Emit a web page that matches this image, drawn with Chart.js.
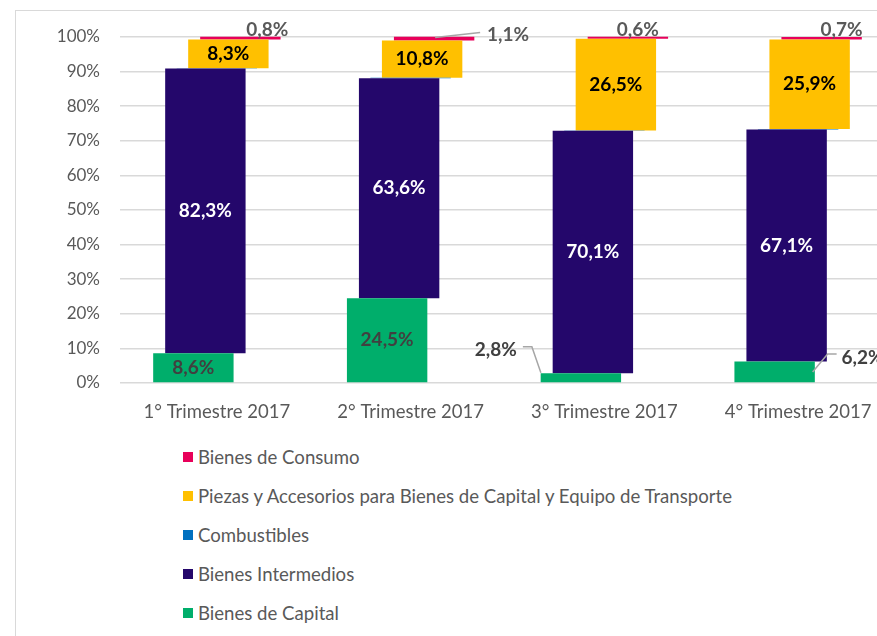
<!DOCTYPE html>
<html>
<head>
<meta charset="utf-8">
<script src="https://cdn.jsdelivr.net/npm/chart.js@4.4.1/dist/chart.umd.min.js"></script>
<style>
html, body { margin: 0; padding: 0; width: 877px; height: 636px; overflow: hidden; background: #fff; }
#frame { position: absolute; left: 15px; top: 10px; width: 1000px; height: 1000px; border: 1px solid #d9d9d9; }
#chartArea { position: absolute; left: 0; top: 0; }
#legend { position: absolute; left: 183px; top: 437px; font-family: Lato, sans-serif; font-size: 18.6px; color: #595959; }
.item { height: 39px; display: flex; align-items: center; white-space: nowrap; }
.box { width: 10px; height: 10px; margin-right: 5px; }
</style>
</head>
<body>
<div id="frame"></div>
<canvas id="chartArea" width="900" height="430"></canvas>
<div id="legend"></div>
<script>
'use strict'

// data (percent of total)
const categories = ['1° Trimestre 2017', '2° Trimestre 2017', '3° Trimestre 2017', '4° Trimestre 2017'];
const seriesNames = ['Bienes de Capital', 'Bienes Intermedios', 'Combustibles',
    'Piezas y Accesorios para Bienes de Capital y Equipo de Transporte', 'Bienes de Consumo'];
const capital = [8.6, 24.5, 2.8, 6.2];
const intermedios = [82.3, 63.6, 70.1, 67.1];
const combustibles = [0.1, 0.1, 0.1, 0.1];
const piezas = [8.3, 10.8, 26.5, 25.9];
const consumo = [0.8, 1.1, 0.6, 0.7];
const yTicks = [0, 10, 20, 30, 40, 50, 60, 70, 80, 90, 100];

const colors = ['#00ae6b', '#24076b', '#0070c0', '#ffc000', '#e8005a'];
const labelColors = ['#404040', '#ffffff', null, '#000000', '#595959'];

// each series is drawn a little to the right of the previous one (pseudo depth)
const barShift = [-23.5, -11.5, 0, 11.5, 23.5];

// label nudges relative to the bar centre, plus optional leader lines
const labelNudge = {
    '4-0': { dx: 27, dy: -8 },
    '4-1': { dx: 74, dy: -4, leader: [[1, -1], [46, -6]] },
    '4-2': { dx: 10, dy: -8 },
    '4-3': { dx: 20, dy: -8 },
    '0-2': { dx: -85, dy: -28, leader: [[-58, -31], [-49, -31], [-40, -5]] },
    '0-3': { dx: 88, dy: -14, leader: [[38, 0], [53, -18], [62, -18]] }
};

let fmt = function(v) {
    return v.toFixed(1).replace('.', ',') + '%';
};

const shiftPlugin = {
    id: 'shift',
    beforeDatasetDraw(chart, args) {
        chart.ctx.save();
        chart.ctx.translate(barShift[args.index], 0);
    },
    afterDatasetDraw(chart) {
        chart.ctx.restore();
    }
};

const labelPlugin = {
    id: 'barLabels',
    afterDatasetsDraw(chart) {
        const ctx = chart.ctx;
        ctx.save();
        ctx.font = 'bold 19px Lato';
        ctx.textAlign = 'center';
        ctx.textBaseline = 'middle';
        chart.data.datasets.forEach((ds, di) => {
            if (!labelColors[di]) return;
            chart.getDatasetMeta(di).data.forEach((bar, i) => {
                let cx = bar.x + barShift[di];
                let cy = (bar.y + bar.base) / 2;
                let n = labelNudge[di + '-' + i];
                let x = cx, y = cy;
                if (n) {
                    x += n.dx;
                    y += n.dy;
                    if (n.leader) {
                        ctx.strokeStyle = '#a6a6a6';
                        ctx.lineWidth = 1.5;
                        ctx.beginPath();
                        n.leader.forEach((p, k) => {
                            if (k == 0) ctx.moveTo(cx + p[0], cy + p[1]);
                            else ctx.lineTo(cx + p[0], cy + p[1]);
                        });
                        ctx.stroke();
                    }
                }
                ctx.fillStyle = labelColors[di];
                ctx.fillText(fmt(ds.data[i]), x, y);
            });
        });
        ctx.restore();
    }
};

const seriesData = [capital, intermedios, combustibles, piezas, consumo];
let datasets = [];
for (let k = 0; k < seriesData.length; k++) {
    datasets.push({
        label: seriesNames[k],
        data: seriesData[k],
        backgroundColor: colors[k],
        borderWidth: 0,
        clip: false,
        categoryPercentage: 0.83,
        barPercentage: 0.5
    });
}

let ctx = document.getElementById('chartArea').getContext('2d');
let chart = new Chart(ctx, {
    type: 'bar',
    data: { labels: categories, datasets: datasets },
    options: {
        responsive: false,
        animation: false,
        devicePixelRatio: 1,
        layout: { padding: { left: 0, right: 5, top: 37, bottom: 0 } },
        plugins: { legend: { display: false }, tooltip: { enabled: false } },
        scales: {
            x: {
                stacked: true,
                grid: { display: false },
                border: { display: false },
                ticks: { color: '#595959', font: { family: 'Lato', size: 18.5 }, padding: 10, maxRotation: 0 },
                afterFit(scale) { scale.height = 47; }
            },
            y: {
                stacked: true,
                min: 0,
                max: 100,
                afterBuildTicks(scale) { scale.ticks = yTicks.map(v => ({ value: v })); },
                grid: { color: '#d9d9d9', lineWidth: 1.5, drawTicks: false },
                border: { display: false },
                ticks: {
                    color: '#595959', font: { family: 'Lato', size: 17 }, padding: 20,
                    callback: v => v + '%'
                },
                afterFit(scale) { scale.width = 120; }
            }
        }
    },
    plugins: [shiftPlugin, labelPlugin]
});

// legend, top entry is the last series
let legend = document.getElementById('legend');
for (let k = datasets.length - 1; k >= 0; k--) {
    let item = document.createElement('div');
    item.className = 'item';
    let box = document.createElement('span');
    box.className = 'box';
    box.style.background = datasets[k].backgroundColor;
    let txt = document.createElement('span');
    txt.textContent = datasets[k].label;
    item.appendChild(box);
    item.appendChild(txt);
    legend.appendChild(item);
}
</script>
</body>
</html>
